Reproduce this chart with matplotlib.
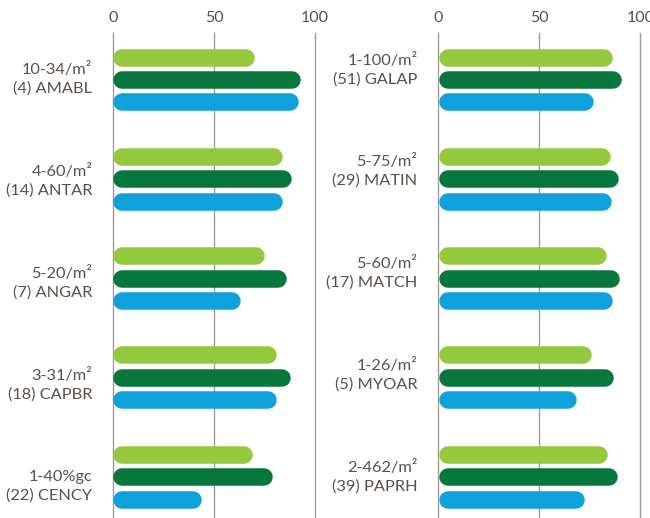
import numpy as np
import matplotlib.pyplot as plt

# left panel
labels_left = ["10-34/m²\n(4) AMABL", "4-60/m²\n(14) ANTAR", "5-20/m²\n(7) ANGAR",
               "3-31/m²\n(18) CAPBR", "1-40%gc\n(22) CENCY"]
light_left = [70, 84, 75, 81, 69]
dark_left = [93, 88.5, 86, 88, 79]
blue_left = [92, 84, 63, 81, 44]

# right panel
labels_right = ["1-100/m²\n(51) GALAP", "5-75/m²\n(29) MATIN", "5-60/m²\n(17) MATCH",
                "1-26/m²\n(5) MYOAR", "2-462/m²\n(39) PAPRH"]
light_right = [86.5, 85.5, 83.5, 76, 84]
dark_right = [91, 89.5, 90, 87, 89]
blue_right = [77, 86, 86.5, 68.5, 72.5]

ticks = [0, 50, 100]

c_light = "#94c83d"
c_dark = "#08773d"
c_blue = "#0ea1dc"
c_grid = "#a39b98"
c_text = "#5b4f4b"

plt.rcParams['font.family'] = ['Lato', 'DejaVu Sans']

W, H = 650, 518
fig = plt.figure(figsize=(6.5, 5.18), dpi=100)

bar_px = 17.5      # bar thickness in pixels
bar_gap = 22.4     # distance between bars in a group
group_gap = 99.3   # distance between groups
first_bar = 57.5   # first bar center (pixels from top)
label_gap = 101.8


def panel(x0, lab, light, dark, blue, label_start):
    # axes covering x0 .. x0+202 px horizontally, full height below the ticks
    ax = fig.add_axes([x0 / W, 0, 202 / W, 1 - 33 / H])
    ax.set_xlim(0, 100)
    ax.set_ylim(H, 33)   # y in pixel units from the top
    ax.axis("off")
    for t in ticks:
        ax.axvline(t, color=c_grid, lw=1.0, zorder=0, clip_on=False)
        ax.text(t, 18, str(t), ha="center", va="center", fontsize=11.5,
                color=c_text, clip_on=False)
    lw = bar_px * 72 / 100
    r = (bar_px / 2) / (202 / 100)   # cap radius in data units
    for i in range(len(lab)):
        for j, (vals, c) in enumerate([(light, c_light), (dark, c_dark), (blue, c_blue)]):
            y = first_bar + i * group_gap + j * bar_gap
            ax.plot([r + 0.3, vals[i] - r], [y, y], color=c, lw=lw,
                    solid_capstyle="round", clip_on=False, zorder=2)
        ax.text(-10.3, label_start + i * label_gap, lab[i], ha="right", va="center",
                fontsize=11.8, color=c_text, linespacing=1.38, clip_on=False)
    return ax


panel(113, labels_left, light_left, dark_left, blue_left, 79)
panel(438.3, labels_right, light_right, dark_right, blue_right, 69.5)

fig.savefig("out.png", dpi=100, facecolor="white")
